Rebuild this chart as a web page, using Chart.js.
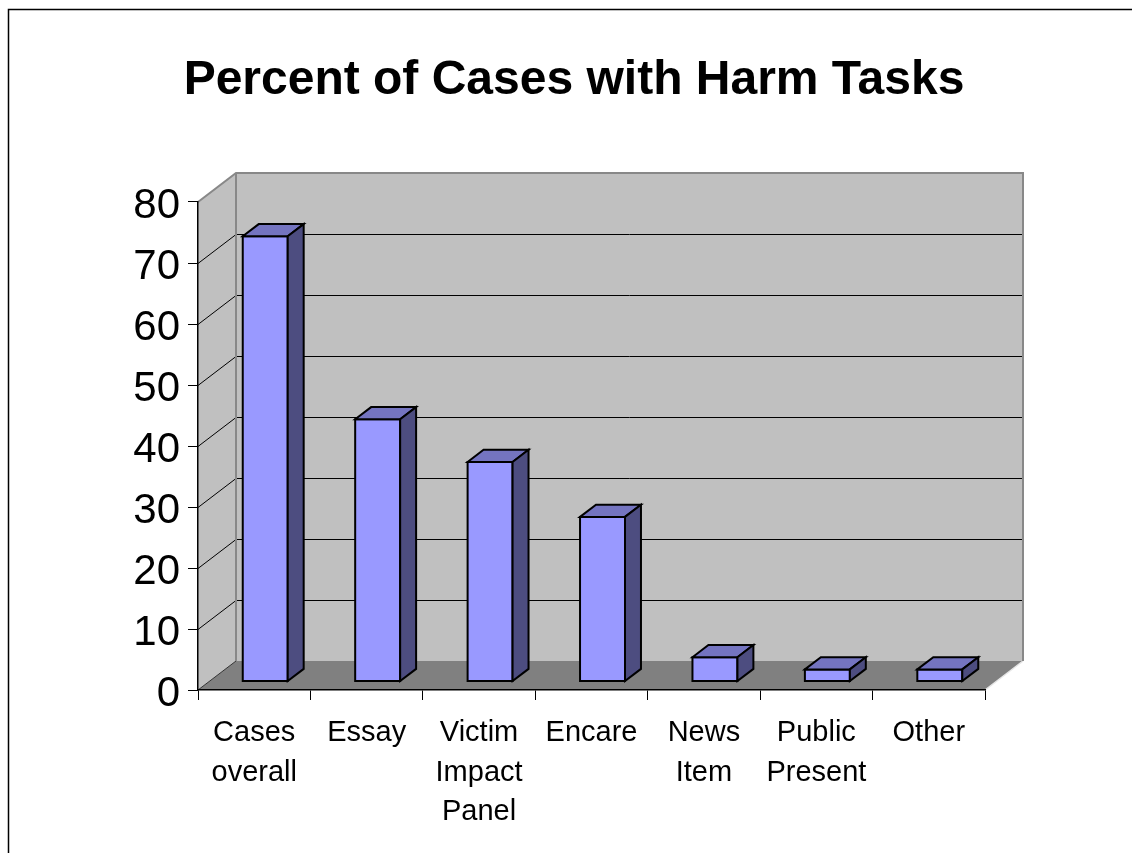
<!DOCTYPE html>
<html>
<head>
<meta charset="utf-8">
<title>Percent of Cases with Harm Tasks</title>
<script src="https://cdn.jsdelivr.net/npm/chart.js@4.4.1/dist/chart.umd.min.js"></script>
<style>
  html, body { margin: 0; padding: 0; background: #fff; }
  #wrap { width: 1132px; height: 853px; }
</style>
</head>
<body>
<div id="wrap"><canvas id="chart" width="1132" height="853"></canvas></div>
<script>
// Categories (multi-line labels as arrays)
const categories = [
  ['Cases', 'overall'],
  'Essay',
  ['Victim', 'Impact', 'Panel'],
  'Encare',
  ['News', 'Item'],
  ['Public', 'Present'],
  'Other'
];

// Percent of cases per task type
const percentValues = [73, 43, 36, 27, 4, 2, 2];

// Value axis range and step
const axisMin = 0;
const axisMax = 80;
const axisStep = 10;

const FONT = "'Liberation Sans', Arial, Helvetica, sans-serif";

// Oblique projection of the plot depth (back wall offset from the front plane)
const DEPTH_X = 38;
const DEPTH_Y = -29;
// Bars sit between these fractions of the depth
const BAR_FRONT = 0.29;
const BAR_DEPTH = 0.42;

const BAR_FRONT_COLOR = '#9999ff';
const BAR_TOP_COLOR = '#7474c0';
const BAR_SIDE_COLOR = '#4d4d80';

function poly(ctx, pts, fill, stroke, lw) {
  ctx.beginPath();
  ctx.moveTo(pts[0][0], pts[0][1]);
  for (let i = 1; i < pts.length; i++) ctx.lineTo(pts[i][0], pts[i][1]);
  ctx.closePath();
  if (fill) { ctx.fillStyle = fill; ctx.fill(); }
  if (stroke) { ctx.strokeStyle = stroke; ctx.lineWidth = lw || 1; ctx.stroke(); }
}

function line(ctx, x1, y1, x2, y2, color, lw) {
  ctx.beginPath();
  ctx.moveTo(x1, y1);
  ctx.lineTo(x2, y2);
  ctx.strokeStyle = color;
  ctx.lineWidth = lw;
  ctx.stroke();
}

// Walls, floor and receding gridlines behind the axes
const wallsPlugin = {
  id: 'walls3d',
  beforeDraw(chart) {
    const { ctx, chartArea: a, scales } = chart;
    const y = scales.y;
    const L = a.left, R = a.right, T = a.top, B = a.bottom;
    const DX = DEPTH_X, DY = DEPTH_Y;
    ctx.save();
    ctx.fillStyle = '#ffffff';
    ctx.fillRect(0, 0, chart.width, chart.height);

    // outer frame
    ctx.strokeStyle = '#000';
    ctx.lineWidth = 1.5;
    ctx.strokeRect(8.5, 9.5, chart.width + 20, chart.height + 20);

    // side wall
    poly(ctx, [[L, T], [L + DX, T + DY], [L + DX, B + DY], [L, B]], '#c0c0c0');
    // back wall
    poly(ctx, [[L + DX, T + DY], [R + DX, T + DY], [R + DX, B + DY], [L + DX, B + DY]], '#c0c0c0');
    // floor
    poly(ctx, [[L, B], [R, B], [R + DX, B + DY], [L + DX, B + DY]], '#808080');

    // gridlines on side and back walls
    y.ticks.forEach(t => {
      if (t.value <= axisMin || t.value >= axisMax) return;
      const py = Math.round(y.getPixelForValue(t.value)) + 0.5;
      line(ctx, L, py, L + DX, py + DY, '#000', 1);
      line(ctx, L + DX, py + DY, R + DX, py + DY, '#000', 1);
    });
    // floor left edge
    line(ctx, L, B, L + DX, B + DY, '#333', 1);
    // floor right edge
    line(ctx, R, B, R + DX, B + DY, '#e6e6e6', 1.5);

    // wall outlines
    ctx.lineJoin = 'miter';
    ctx.beginPath();
    ctx.moveTo(L, T);
    ctx.lineTo(L + DX, T + DY);
    ctx.lineTo(R + DX, T + DY);
    ctx.lineTo(R + DX, B + DY);
    ctx.moveTo(L + DX, T + DY);
    ctx.lineTo(L + DX, B + DY);
    ctx.strokeStyle = '#888888';
    ctx.lineWidth = 2;
    ctx.stroke();
    ctx.restore();
  },
  // the bars are drawn as boxes below
  beforeDatasetDraw() {
    return false;
  },
  afterDatasetsDraw(chart) {
    const { ctx } = chart;
    const fx = BAR_FRONT * DEPTH_X, fy = BAR_FRONT * DEPTH_Y;
    const dx = BAR_DEPTH * DEPTH_X, dy = BAR_DEPTH * DEPTH_Y;
    ctx.save();
    ctx.lineJoin = 'miter';
    chart.data.datasets.forEach((ds, i) => {
      const meta = chart.getDatasetMeta(i);
      meta.data.forEach(el => {
        const p = el.getProps(['x', 'y', 'base', 'width'], true);
        const x0 = p.x - p.width / 2 + fx;
        const x1 = p.x + p.width / 2 + fx;
        const yt = p.y + fy;
        const yb = p.base + fy;
        poly(ctx, [[x0, yt], [x1, yt], [x1, yb], [x0, yb]], BAR_FRONT_COLOR, '#000', 2);
        poly(ctx, [[x0, yt], [x0 + dx, yt + dy], [x1 + dx, yt + dy], [x1, yt]], BAR_TOP_COLOR, '#000', 2);
        poly(ctx, [[x1, yt], [x1 + dx, yt + dy], [x1 + dx, yb + dy], [x1, yb]], BAR_SIDE_COLOR, '#000', 2);
      });
    });
    ctx.restore();
  }
};

new Chart(document.getElementById('chart'), {
  type: 'bar',
  data: {
    labels: categories,
    datasets: [{
      label: 'Percent of Cases',
      data: percentValues,
      backgroundColor: BAR_FRONT_COLOR,
      borderColor: '#000',
      borderWidth: 2,
      barPercentage: 0.4,
      categoryPercentage: 1.0
    }]
  },
  options: {
    responsive: false,
    animation: false,
    events: [],
    layout: { padding: { left: 16, right: 0, top: 0, bottom: 0 } },
    plugins: {
      legend: { display: false },
      tooltip: { enabled: false },
      title: {
        display: true,
        text: 'Percent of Cases with Harm Tasks',
        color: '#000',
        font: { family: FONT, size: 48, weight: 'bold', lineHeight: 1.2 },
        padding: { top: 51.8, bottom: 92.6 }
      }
    },
    scales: {
      x: {
        afterFit(scale) { scale.height = 163; },
        grid: {
          display: true,
          offset: true,
          drawOnChartArea: false,
          drawTicks: true,
          tickLength: 10,
          tickColor: '#000',
          tickWidth: 1
        },
        border: { display: true, color: '#000', width: 1.5 },
        ticks: {
          color: '#000',
          font: { family: FONT, size: 29, lineHeight: 1.36 },
          padding: 13.5,
          maxRotation: 0,
          minRotation: 0,
          autoSkip: false
        }
      },
      y: {
        min: axisMin,
        max: axisMax,
        afterFit(scale) { scale.width = 182; },
        grid: {
          display: true,
          drawOnChartArea: false,
          drawTicks: true,
          tickLength: 10,
          tickColor: '#000',
          tickWidth: 1
        },
        border: { display: true, color: '#000', width: 1.5 },
        ticks: {
          stepSize: axisStep,
          color: '#000',
          font: { family: FONT, size: 42 },
          padding: 8,
          labelOffset: 4.5
        }
      },
      // empty right-hand axis that reserves room for the receding floor and wall
      yRoom: {
        position: 'right',
        display: true,
        min: axisMin,
        max: axisMax,
        afterFit(scale) { scale.width = 147; },
        grid: { display: false },
        border: { display: false },
        ticks: { display: false }
      }
    }
  },
  plugins: [wallsPlugin]
});
</script>
</body>
</html>
